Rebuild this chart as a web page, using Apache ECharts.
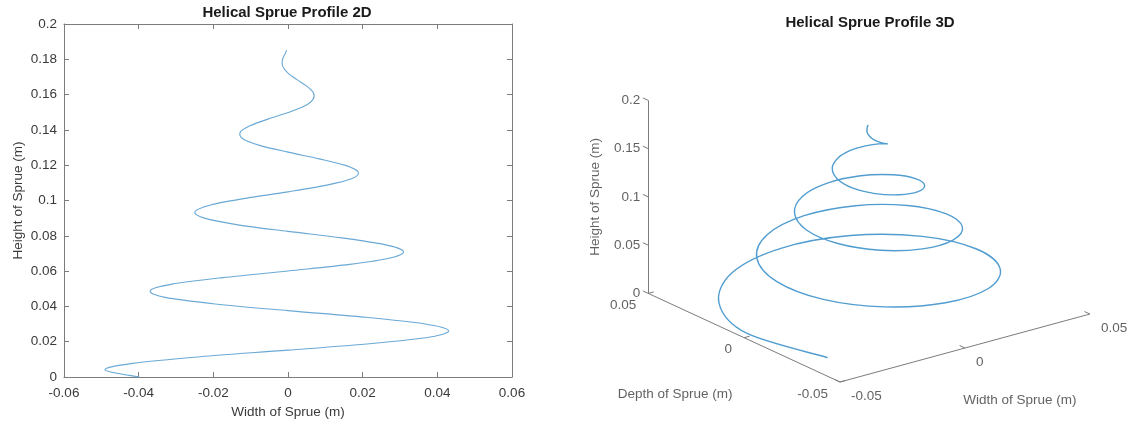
<!DOCTYPE html>
<html>
<head>
<meta charset="utf-8">
<script src="https://cdn.jsdelivr.net/npm/echarts@6/dist/echarts.min.js"></script>
<style>
  html, body { margin: 0; padding: 0; background: #ffffff; }
  #chart { width: 1129px; height: 423px; }
</style>
</head>
<body>
<div id="chart"></div>
<script>
// Helix centre-line samples (metres): width (x), depth (y), height (z)
const sprueWidth = [
  -0.0399, -0.0490, -0.0416, -0.0235, 0.0000, 0.0225, 0.0381, 0.0430, 0.0363, 0.0205,
  0.0000, -0.0195, -0.0329, -0.0369, -0.0311, -0.0175, 0.0000, 0.0165, 0.0276, 0.0309,
  0.0259, 0.0144, 0.0000, -0.0134, -0.0224, -0.0249, -0.0207, -0.0114, 0.0000, 0.0104,
  0.0172, 0.0188, 0.0154, 0.0084, 0.0000, -0.0074, -0.0120, -0.0128, -0.0102, -0.0054,
  0.0000, 0.0044, 0.0067, 0.0068, 0.0050, 0.0024, 0.0000, -0.0014, -0.0015, -0.0007,
  -0.0004
];
const sprueDepth = [
  -0.0301, 0.0000, 0.0240, 0.0407, 0.0460, 0.0390, 0.0220, 0.0000, -0.0210, -0.0355,
  -0.0399, -0.0337, -0.0190, 0.0000, 0.0180, 0.0302, 0.0339, 0.0285, 0.0160, 0.0000,
  -0.0149, -0.0250, -0.0279, -0.0233, -0.0129, 0.0000, 0.0119, 0.0198, 0.0218, 0.0180,
  0.0099, 0.0000, -0.0089, -0.0146, -0.0158, -0.0128, -0.0069, 0.0000, 0.0059, 0.0093,
  0.0098, 0.0076, 0.0039, 0.0000, -0.0029, -0.0041, -0.0037, -0.0024, -0.0009, 0.0000,
  0.0001
];
const sprueHeight = [
  0.0000, 0.0040, 0.0077, 0.0115, 0.0152, 0.0190, 0.0227, 0.0264, 0.0302, 0.0339,
  0.0376, 0.0414, 0.0451, 0.0489, 0.0526, 0.0563, 0.0601, 0.0638, 0.0676, 0.0713,
  0.0750, 0.0788, 0.0825, 0.0862, 0.0900, 0.0937, 0.0975, 0.1012, 0.1049, 0.1087,
  0.1124, 0.1162, 0.1199, 0.1236, 0.1274, 0.1311, 0.1348, 0.1386, 0.1423, 0.1461,
  0.1498, 0.1535, 0.1573, 0.1610, 0.1648, 0.1685, 0.1722, 0.1760, 0.1797, 0.1834,
  0.1850
];

// 3D axis tick values
const widthTicks3D = [-0.05, 0, 0.05];
const depthTicks3D = [-0.05, 0, 0.05];
const heightTicks3D = [0, 0.05, 0.1, 0.15, 0.2];

const TEXT = '#3a3a3a';
const AXIS = '#7c7c7c';
const LINE2D = '#6aa9d5';
const LINE3D = '#519dd0';
const FONT = '"Liberation Sans", Arial, sans-serif';

// ---------- 3D view (azimuth / elevation camera onto a flat plane) ----------
const box3D = { xMin: -0.05, xMax: 0.05, yMin: -0.05, yMax: 0.05, zMin: 0, zMax: 0.2 };
const view = { az: -37.5, el: 30, scale: 3150, squash: 0.709, zScale: 965 };

function project(x, y, z) {
  const a = view.az * Math.PI / 180, e = view.el * Math.PI / 180;
  const X = x - box3D.xMin, Y = y - box3D.yMin;
  const u = view.scale * (Math.cos(a) * X + Math.sin(a) * Y);
  const v = view.scale * view.squash * Math.sin(e) * (-Math.sin(a) * X + Math.cos(a) * Y)
          + view.zScale * (z - box3D.zMin);
  return [u, v];
}

const helix2D = sprueWidth.map((w, i) => [w, sprueHeight[i]]);
const helix3D = sprueWidth.map((w, i) => project(w, sprueDepth[i], sprueHeight[i]));

// Catmull-Rom spline through pixel points, as a cubic Bezier path string
function splinePath(pts) {
  let d = 'M' + pts[0][0] + ' ' + pts[0][1];
  for (let i = 0; i < pts.length - 1; i++) {
    const p0 = pts[Math.max(i - 1, 0)], p1 = pts[i], p2 = pts[i + 1];
    const p3 = pts[Math.min(i + 2, pts.length - 1)];
    const c1x = p1[0] + (p2[0] - p0[0]) / 6, c1y = p1[1] + (p2[1] - p0[1]) / 6;
    const c2x = p2[0] - (p3[0] - p1[0]) / 6, c2y = p2[1] - (p3[1] - p1[1]) / 6;
    d += ' C' + c1x + ' ' + c1y + ' ' + c2x + ' ' + c2y + ' ' + p2[0] + ' ' + p2[1];
  }
  return d;
}

// A curve drawn as one smooth path; every vertex mapped by the axis scales
function curveSeries(points, xi, yi, color, width) {
  return {
    type: 'custom', coordinateSystem: 'cartesian2d', xAxisIndex: xi, yAxisIndex: yi,
    silent: true, data: points, encode: { x: 0, y: 1 }, z: 3,
    renderItem: function (params, api) {
      if (params.dataIndex !== 0) return null;
      const px = points.map(p => api.coord(p));
      return {
        type: 'path',
        shape: { pathData: splinePath(px) },
        style: { stroke: color, fill: null, lineWidth: width, lineJoin: 'round', lineCap: 'round' }
      };
    }
  };
}

const b = box3D;
const segs = [
  [[b.xMin, b.yMax, b.zMin], [b.xMin, b.yMax, b.zMax]],   // height axis
  [[b.xMin, b.yMin, b.zMin], [b.xMin, b.yMax, b.zMin]],   // depth axis
  [[b.xMin, b.yMin, b.zMin], [b.xMax, b.yMin, b.zMin]]    // width axis
];
heightTicks3D.forEach(t => segs.push([[b.xMin, b.yMax, t], [b.xMin, b.yMax + 0.0028, t]]));
depthTicks3D.forEach(t => segs.push([[b.xMin, t, b.zMin], [b.xMin + 0.0022, t, b.zMin]]));
widthTicks3D.forEach(t => segs.push([[t, b.yMin, b.zMin], [t, b.yMin + 0.0028, b.zMin]]));
const axisLines3D = segs.map(s => ({ coords: s.map(p => project(p[0], p[1], p[2])) }));

const fmt = v => String(v);
const heightLabels = heightTicks3D.map(t => ({ value: project(b.xMin, b.yMax, t), name: fmt(t) }));
const depthLabels = depthTicks3D.map(t => ({ value: project(b.xMin, t, b.zMin), name: fmt(t) }));
const widthLabels = widthTicks3D.map(t => ({ value: project(t, b.yMin, b.zMin), name: fmt(t) }));

const midDepth = project(b.xMin, (b.yMin + b.yMax) / 2, b.zMin);
const midWidth = project((b.xMin + b.xMax) / 2, b.yMin, b.zMin);
const midHeight = project(b.xMin, b.yMax, (b.zMin + b.zMax) / 2);

function labelSeries(data, label) {
  return {
    type: 'scatter', xAxisIndex: 2, yAxisIndex: 2, silent: true,
    symbolSize: 1, itemStyle: { color: 'rgba(0,0,0,0)' },
    data: data,
    label: Object.assign({
      show: true, position: 'inside', formatter: p => p.name,
      color: TEXT, fontSize: 13.5, fontFamily: FONT, verticalAlign: 'middle'
    }, label),
    z: 5
  };
}

const tickFont = { color: TEXT, fontSize: 13.5, fontFamily: FONT };

const chart = echarts.init(document.getElementById('chart'), null, { renderer: 'canvas' });
chart.setOption({
  backgroundColor: '#ffffff',
  animation: false,
  graphic: [
    { type: 'text', x: 287, y: 13, style: { text: 'Helical Sprue Profile 2D', x: 0, y: 0,
      textAlign: 'center', textVerticalAlign: 'middle', fill: '#1a1a1a',
      font: 'bold 15px ' + FONT } },
    { type: 'text', x: 870, y: 23, style: { text: 'Helical Sprue Profile 3D', x: 0, y: 0,
      textAlign: 'center', textVerticalAlign: 'middle', fill: '#1a1a1a',
      font: 'bold 15px ' + FONT } }
  ],
  grid: [
    { left: 64, top: 24, width: 448, height: 353, outerBoundsMode: 'none' },
    { left: 560, top: 0, width: 569, height: 423, outerBoundsMode: 'none' }
  ],
  xAxis: [
    { type: 'value', gridIndex: 0, position: 'bottom', min: -0.06, max: 0.06, interval: 0.02,
      name: 'Width of Sprue (m)', nameLocation: 'middle', nameGap: 27,
      nameTextStyle: tickFont,
      axisLine: { show: true, onZero: false, lineStyle: { color: AXIS, width: 1 } },
      axisTick: { show: true, inside: true, length: 5, lineStyle: { color: AXIS } },
      axisLabel: Object.assign({ margin: 9 }, tickFont),
      splitLine: { show: false } },
    { type: 'value', gridIndex: 0, position: 'top', min: -0.06, max: 0.06, interval: 0.02,
      axisLine: { show: true, onZero: false, lineStyle: { color: AXIS, width: 1 } },
      axisTick: { show: true, inside: true, length: 5, lineStyle: { color: AXIS } },
      axisLabel: { show: false }, splitLine: { show: false } },
    { type: 'value', gridIndex: 1, min: -280, max: 289, show: false }
  ],
  yAxis: [
    { type: 'value', gridIndex: 0, position: 'left', min: 0, max: 0.2, interval: 0.02,
      name: 'Height of Sprue (m)', nameLocation: 'middle', nameGap: 39,
      nameTextStyle: tickFont,
      axisLine: { show: true, onZero: false, lineStyle: { color: AXIS, width: 1 } },
      axisTick: { show: true, inside: true, length: 5, lineStyle: { color: AXIS } },
      axisLabel: Object.assign({ margin: 7 }, tickFont),
      splitLine: { show: false } },
    { type: 'value', gridIndex: 0, position: 'right', min: 0, max: 0.2, interval: 0.02,
      axisLine: { show: true, onZero: false, lineStyle: { color: AXIS, width: 1 } },
      axisTick: { show: true, inside: true, length: 5, lineStyle: { color: AXIS } },
      axisLabel: { show: false }, splitLine: { show: false } },
    { type: 'value', gridIndex: 1, min: -41, max: 382, show: false }
  ],
  series: [
    curveSeries(helix2D, 0, 0, LINE2D, 1.1),
    { type: 'lines', coordinateSystem: 'cartesian2d', xAxisIndex: 2, yAxisIndex: 2,
      silent: true, data: axisLines3D,
      lineStyle: { color: AXIS, width: 1, opacity: 1, curveness: 0 }, z: 2 },
    curveSeries(helix3D, 2, 2, LINE3D, 1.4),
    labelSeries(heightLabels, { align: 'right', offset: [-8, 0] }),
    labelSeries(depthLabels, { align: 'right', offset: [-12, 12] }),
    labelSeries(widthLabels, { align: 'left', offset: [11, 14] }),
    labelSeries([{ value: midDepth, name: 'Depth of Sprue (m)' }], { align: 'center', offset: [-69, 57] }),
    labelSeries([{ value: midWidth, name: 'Width of Sprue (m)' }], { align: 'center', offset: [55, 52] }),
    labelSeries([{ value: midHeight, name: 'Height of Sprue (m)' }], { align: 'center', rotate: 90, offset: [0, -53] })
  ]
});
</script>
</body>
</html>
